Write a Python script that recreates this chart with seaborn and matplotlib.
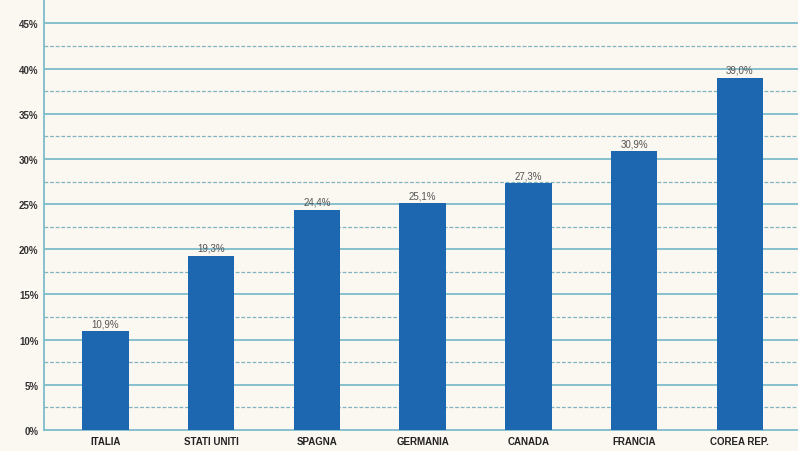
import matplotlib
matplotlib.use("Agg")
import matplotlib.pyplot as plt
import seaborn as sns
import pandas as pd
import numpy as np

paesi = ['ITALIA', 'STATI UNITI', 'SPAGNA', 'GERMANIA', 'CANADA', 'FRANCIA', 'COREA REP.']
valori = [10.9, 19.3, 24.4, 25.1, 27.3, 30.9, 39.0]
etichette = ['10,9%', '19,3%', '24,4%', '25,1%', '27,3%', '30,9%', '39,0%']
tick_y = [0, 5, 10, 15, 20, 25, 30, 35, 40, 45]

df = pd.DataFrame({'Paese': paesi, 'Valore': valori})

sns.set_style('white')
plt.rcParams['font.family'] = ['Liberation Sans', 'DejaVu Sans']

bg = '#fbf7f1'
fig = plt.figure(figsize=(7.98, 4.52), dpi=100, facecolor=bg)
ax = fig.add_axes([0.0551, 0.0465, 0.9449, 0.9535])
ax.set_facecolor(bg)

sns.barplot(data=df, x='Paese', y='Valore', color='#1d67b1', width=0.44,
            saturation=1, linewidth=0, ax=ax, zorder=3)

# griglia: linee piene ogni 5%, tratteggiate a metà
for t in tick_y[1:]:
    ax.axhline(t, color='#7dbdcb', lw=1.3, zorder=1)
for t in np.arange(2.5, 47.5, 5):
    ax.axhline(t, color='#7fb3bf', lw=0.9, ls=(0, (3, 1.5)), zorder=1)

for i, (v, lab) in enumerate(zip(valori, etichette)):
    ax.text(i, v + 0.3, lab, ha='center', va='bottom', fontsize=7,
            color='#555555', zorder=4)

ax.set_xlim(-0.58, 6.55)
ax.set_ylim(0, 47.7)
ax.set_yticks(tick_y)
ax.set_yticklabels([f'{t}%' for t in tick_y], fontsize=7, fontweight='bold', color='#333333')
ax.set_xticks(range(len(paesi)))
ax.set_xticklabels(paesi, fontsize=7, fontweight='bold', color='#222222')
ax.tick_params(axis='both', length=0, pad=4)
ax.set_xlabel('')
ax.set_ylabel('')

for s in ['top', 'right']:
    ax.spines[s].set_visible(False)
ax.spines['left'].set_color('#7dbdcb')
ax.spines['bottom'].set_color('#7dbdcb')
ax.spines['left'].set_linewidth(1.3)
ax.spines['bottom'].set_linewidth(1.3)

fig.savefig('out.png', dpi=100, facecolor=bg)
